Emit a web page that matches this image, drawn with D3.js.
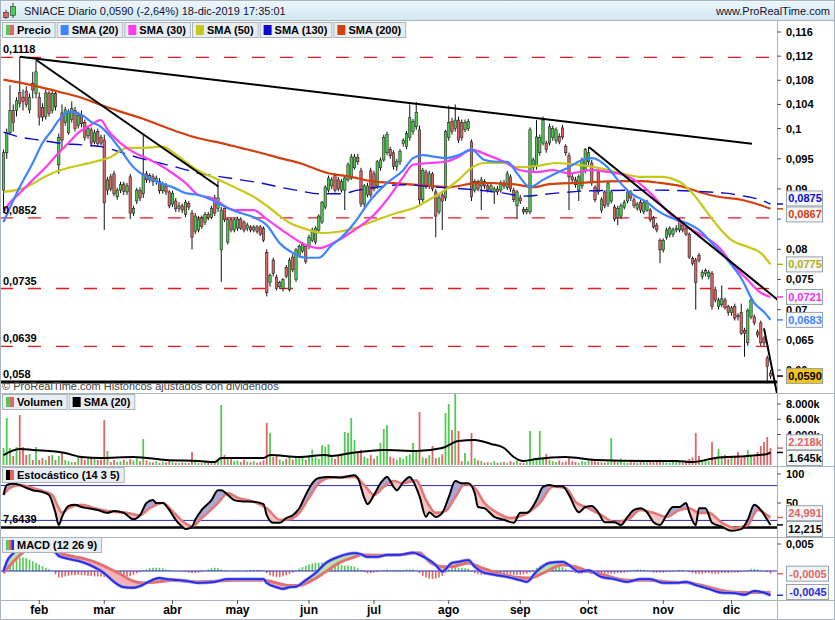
<!DOCTYPE html>
<html>
<head>
<meta charset="utf-8">
<script src="https://cdn.jsdelivr.net/npm/d3@7"></script>
<style>
  body { margin: 0; background: #fff; }
  svg text { font-family: "Liberation Sans", Arial, sans-serif; }
</style>
</head>
<body>
<div id="chart"></div>
<script>
// SNIACE daily, 17-ene-2019 .. 18-dic-2019. prices in units of 0.0001
const candles = [
  [898,965,860,960],[960,1000,950,993],[993,1072,990,1030],[1030,1040,995,1010],[1030,1052,1020,1046],
  [1060,1118,1035,1042],[1052,1065,1030,1045],[1062,1070,1035,1040],[1031,1058,1025,1052],[1075,1094,1050,1064],
  [1058,1112,1050,1094],[1052,1060,1005,1019],[1035,1042,1012,1019],[1020,1065,1015,1059],[1059,1062,1020,1025],
  [1030,1062,1025,1058],[1058,1062,1030,1036],[940,992,925,985],[1026,1040,965,981],[1010,1036,1005,1031],
  [993,1032,990,1028],[1015,1045,1010,1033],[1030,1036,995,1000],[1005,1028,1000,1022],[1022,1030,1002,1008],
  [1010,1015,980,985],[988,1005,983,1000],[998,1002,970,976],[978,998,974,993],[995,1000,970,975],
  [985,990,972,976],[981,990,832,877],[898,920,890,915],[920,925,896,900],[925,930,888,892],
  [887,902,882,898],[898,912,893,907],[908,912,890,896],[895,910,890,905],[920,925,850,860],
  [860,872,855,868],[880,902,875,898],[898,903,880,885],[892,990,885,925],[925,930,910,915],
  [915,926,910,922],[920,925,905,912],[912,922,907,918],[912,918,892,897],[897,912,892,908],
  [905,910,890,895],[895,898,868,872],[875,897,870,893],[880,885,862,867],[868,878,862,872],
  [872,876,860,865],[858,882,853,878],[876,880,865,870],[860,865,800,820],[830,860,825,855],
  [832,855,828,850],[852,856,834,838],[845,862,840,858],[858,862,848,852],[853,872,850,868],
  [885,890,855,860],[868,915,862,885],[799,870,746,865],[868,872,845,849],[812,852,808,849],
  [849,852,828,832],[832,852,828,849],[835,854,830,850],[850,853,832,835],[845,848,828,832],
  [835,844,830,840],[837,840,828,832],[832,840,828,837],[837,840,826,830],[837,840,822,825],
  [835,838,812,815],[795,800,722,728],[745,760,738,757],[782,786,755,760],[754,758,732,735],
  [738,748,734,745],[735,752,730,750],[770,774,752,755],[733,786,730,782],[787,792,762,766],
  [750,802,746,799],[790,808,786,805],[797,812,794,808],[805,808,776,780],[805,824,800,820],
  [815,836,812,832],[812,838,808,835],[832,858,828,855],[845,880,842,878],[870,906,866,903],
  [898,922,894,918],[905,920,900,915],[922,926,894,898],[915,920,896,900],[898,916,894,912],
  [898,922,865,918],[915,944,912,940],[918,958,915,953],[935,958,932,953],[952,958,940,945],
  [930,935,870,875],[875,908,870,905],[890,910,886,905],[930,935,886,890],[925,930,896,900],
  [905,948,900,945],[935,952,930,948],[948,990,945,985],[960,995,956,990],[965,970,950,955],
  [960,964,932,937],[937,950,930,945],[945,966,940,962],[975,984,970,980],[970,996,966,992],
  [985,1040,980,1018],[995,1016,990,1012],[1003,1044,998,1027],[998,1005,875,882],[882,935,878,931],
  [928,932,900,905],[905,930,900,925],[925,928,896,900],[895,900,820,855],[862,890,858,885],
  [890,895,832,880],[885,998,880,995],[985,1038,980,1010],[1012,1018,990,995],[1000,1040,995,1014],
  [1014,1020,976,981],[1010,1015,980,985],[998,1015,994,1010],[1000,1016,996,1012],[978,982,880,887],
  [898,916,894,912],[912,915,896,900],[905,920,865,915],[912,916,900,905],[905,910,894,898],
  [898,910,894,905],[895,904,875,900],[900,905,890,895],[898,914,894,910],[910,915,900,905],
  [902,930,898,925],[920,924,895,900],[898,902,878,882],[872,898,850,895],[885,890,875,880],
  [866,870,858,862],[862,870,858,866],[862,1002,858,998],[936,952,930,948],[937,1014,932,986],
  [960,990,955,985],[976,1020,972,1014],[976,980,960,965],[976,1008,972,1003],[985,1005,980,1000],
  [980,1002,975,998],[987,992,974,978],[1001,1006,982,986],[970,974,955,960],[955,960,865,920],
  [920,926,910,915],[915,920,902,907],[898,924,880,920],[905,952,900,948],[930,968,926,965],
  [945,970,940,960],[943,948,905,910],[903,906,878,882],[928,932,890,895],[865,886,860,882],
  [895,898,868,872],[875,914,870,910],[880,898,876,895],[870,874,846,850],[852,872,840,868],
  [855,876,850,872],[870,882,866,878],[880,900,876,895],[895,898,880,885],[882,886,868,872],
  [868,878,864,875],[878,882,860,865],[862,880,858,877],[865,882,862,878],[865,868,845,849],
  [852,855,834,837],[840,844,828,832],[815,818,777,799],[799,818,795,815],[820,836,816,832],
  [825,838,820,835],[825,836,820,832],[832,840,828,835],[832,852,828,849],[840,844,828,832],
  [835,838,822,825],[825,828,784,787],[785,788,773,777],[782,786,700,745],[790,794,778,782],
  [755,766,750,762],[760,768,755,765],[755,766,750,762],[760,764,700,705],[733,738,712,716],
  [705,720,700,716],[708,740,704,718],[716,720,700,703],[705,708,690,695],[695,706,690,703],
  [705,710,682,686],[690,694,682,688],[695,710,658,661],[666,670,622,661],[645,702,640,699],
  [688,722,684,716],[688,692,674,678],[663,667,654,658],[678,682,640,645],[653,656,640,645],
  [620,624,578,606],[595,600,585,590],
];

// volume, thousands of shares
const volume = [
  2230,6170,2230,1180,2360,6560,2360,1310,1440,660,2360,660,900,660,1180,1310,660,1180,1570,660,
  500,390,390,1050,1050,660,920,1050,920,660,700,5900,1840,390,660,390,500,700,450,800,
  600,900,500,3410,600,400,350,500,300,450,350,600,400,300,250,350,300,250,1700,500,
  300,250,400,300,350,450,600,7870,1310,1050,920,500,600,400,700,450,350,500,300,400,
  600,5510,4200,1050,1300,700,500,800,1100,700,1000,900,1200,700,1300,2000,1000,800,2600,2400,
  2700,1000,800,1300,1500,4330,4200,6170,3280,1700,2000,1100,900,1300,800,1200,2900,4720,5250,1100,
  900,700,1000,800,1200,1400,2890,1800,6960,1000,900,1300,2490,900,1000,1400,6820,8000,4590,9450,
  4460,500,1570,500,4200,900,600,500,300,350,300,500,300,350,400,300,500,350,600,300,
  250,400,4460,600,700,4460,900,1440,700,500,400,600,350,450,900,500,400,300,500,400,
  600,800,500,400,350,300,400,3540,600,400,800,350,300,400,350,300,500,400,350,450,
  600,500,700,400,350,300,450,400,500,300,400,800,1000,4200,1200,600,700,500,3020,1000,
  2100,1200,1310,800,1000,1100,1700,900,1200,1970,1300,1100,1700,2490,3020,3670,2218,
];

// moving averages: [day, value]
const sma20 = [[0,845],[5,903],[9,943],[12,976],[15,998],[17,1014],[20,1028],[24,1023],[27,1011],[30,1003],
  [33,986],[36,965],[40,936],[44,920],[48,910],[52,903],[56,893],[60,890],[64,882],[69,868],[73,860],[77,853],
  [81,840],[85,810],[89,794],[93,786],[97,786],[101,807],[104,820],[108,844],[113,882],[118,910],[123,931],
  [126,951],[129,956],[133,953],[136,951],[140,956],[144,965],[148,948],[152,945],[155,945],[158,926],[162,903],
  [166,915],[170,926],[174,936],[178,948],[181,951],[186,935],[189,915],[193,893],[198,878],[201,865],[205,853],
  [210,844],[214,832],[218,810],[222,787],[227,752],[231,711],[234,696],[236,683]];
const sma30 = [[0,862],[2,877],[5,893],[9,915],[13,936],[17,960],[20,976],[23,993],[26,1003],[30,1014],
  [32,998],[36,976],[40,961],[44,951],[48,940],[52,926],[56,910],[60,890],[64,885],[71,865],[77,865],[81,850],
  [87,827],[93,807],[97,802],[103,815],[108,832],[113,852],[118,882],[123,920],[126,940],[131,943],[136,945],
  [140,953],[144,965],[149,956],[154,945],[159,931],[164,928],[169,931],[174,926],[181,931],[186,928],[191,923],
  [195,912],[199,893],[203,870],[207,849],[212,832],[216,820],[220,804],[224,777],[229,749],[233,728],[236,721]];
const sma50 = [[0,895],[7,903],[11,915],[15,926],[20,935],[24,940],[28,945],[33,953],[38,968],[42,968],
  [49,970],[52,961],[56,945],[60,930],[65,918],[71,903],[77,887],[82,868],[88,844],[94,832],[98,827],[103,829],
  [109,837],[115,849],[121,860],[127,870],[131,882],[135,895],[140,915],[144,935],[148,943],[154,943],[158,936],
  [164,938],[170,943],[177,940],[183,935],[190,926],[196,920],[202,920],[208,912],[212,893],[216,865],[220,837],
  [224,815],[229,804],[233,794],[236,775]];
const sma130 = [[0,994],[5,986],[11,981],[17,976],[24,973],[30,970],[36,961],[42,951],[48,943],[54,935],
  [60,926],[67,920],[73,915],[79,910],[85,903],[91,897],[97,892],[104,892],[109,898],[115,903],[123,907],
  [133,903],[146,898],[154,893],[160,888],[170,893],[181,897],[201,898],[217,895],[222,893],[229,887],
  [233,882],[236,875]];
const sma200 = [[0,1081],[5,1076],[11,1069],[17,1061],[24,1051],[30,1039],[36,1028],[42,1018],[48,1006],
  [54,994],[60,984],[67,976],[73,968],[79,960],[85,951],[91,943],[100,926],[107,920],[113,913],[119,910],
  [131,905],[137,903],[146,910],[158,907],[163,903],[168,908],[177,910],[190,913],[196,913],[202,910],
  [208,905],[214,895],[220,887],[227,882],[233,873],[236,867]];
const volSma20 = [[0,1310],[5,2100],[9,1970],[19,1570],[24,1050],[30,920],[40,1050],[50,660],[60,525],
  [65,390],[67,920],[80,920],[82,1310],[91,1050],[99,1310],[101,1180],[107,1570],[117,1970],[127,1840],
  [135,2230],[140,3150],[145,3280],[150,2760],[154,2230],[157,1050],[160,525],[164,790],[173,1050],
  [182,660],[198,525],[207,525],[212,390],[219,920],[229,1180],[235,1440],[236,1645]];

// stochastic (14 3 5): %K and %D, [day, value]
const stochK = [[0,64],[1,81],[3,83],[5,81],[7,76],[9,72],[12,69],[14,64],[16,33],[17,12],[18,26],[19,38],
  [20,45],[22,47],[24,43],[26,41],[29,38],[32,33],[34,36],[37,33],[40,22],[42,29],[44,50],[46,55],[47,50],
  [49,50],[51,38],[53,21],[55,9],[56,5],[58,9],[59,21],[61,38],[64,55],[66,72],[67,72],[69,64],[71,55],
  [73,53],[77,52],[80,48],[81,29],[83,16],[85,16],[87,24],[89,29],[91,41],[93,64],[95,84],[97,93],[100,95],
  [104,94],[108,98],[109,93],[111,59],[112,48],[114,64],[116,84],[118,95],[120,78],[121,72],[123,86],
  [125,95],[126,88],[128,62],[130,26],[131,34],[133,26],[135,33],[137,60],[139,88],[141,84],[143,84],
  [145,67],[146,43],[148,41],[151,26],[154,21],[157,16],[159,33],[161,33],[164,55],[166,78],[168,81],
  [170,79],[172,79],[174,64],[177,34],[179,43],[181,45],[183,34],[185,17],[188,17],[190,12],[192,26],
  [194,38],[196,41],[198,34],[200,17],[202,12],[204,29],[206,43],[208,43],[210,50],[211,34],[213,12],
  [214,41],[216,41],[218,16],[221,9],[224,2],[227,5],[229,21],[231,47],[233,38],[235,21],[236,12.2]];
const stochD = [[0,64],[2,76],[5,81],[9,76],[13,69],[15,64],[17,41],[18,33],[20,41],[24,47],[28,41],
  [32,36],[38,33],[42,29],[45,41],[49,50],[52,36],[55,19],[58,10],[61,24],[66,50],[69,67],[72,59],[77,52],
  [81,41],[85,21],[88,22],[91,33],[94,59],[97,84],[101,94],[108,95],[111,81],[114,64],[117,78],[120,88],
  [123,84],[126,88],[127,89],[130,55],[133,33],[136,36],[139,60],[142,83],[145,76],[148,50],[152,33],
  [156,24],[160,29],[165,50],[169,78],[173,76],[176,52],[180,41],[184,29],[188,17],[192,21],[196,38],
  [200,33],[204,26],[208,38],[211,41],[214,33],[217,33],[221,16],[225,7],[229,12],[232,38],[235,29],[236,25]];

// MACD (12 26 9) in units of 0.0001: [day, value]
const macdLine = [[0,-1],[1,17],[3,33],[5,48],[8,58],[11,62],[14,52],[17,28],[19,24],[24,17],[28,7],[31,-4],
  [34,-20],[37,-30],[40,-31],[42,-28],[44,-22],[48,-13],[50,-15],[54,-17],[58,-20],[60,-22],[65,-20],
  [69,-15],[73,-15],[80,-15],[81,-22],[84,-30],[86,-33],[88,-30],[90,-29],[93,-17],[96,-4],[99,14],
  [103,26],[108,33],[110,31],[112,26],[115,26],[118,30],[122,30],[126,34],[128,30],[130,24],[133,11],
  [135,-1],[138,15],[140,17],[143,20],[145,8],[147,-1],[151,-7],[155,-11],[159,-17],[161,-20],[164,-1],
  [168,15],[172,17],[174,11],[177,-1],[180,1],[184,-11],[188,-15],[192,-20],[196,-15],[199,-15],[203,-22],
  [207,-22],[210,-20],[213,-26],[217,-33],[221,-40],[225,-41],[228,-44],[231,-37],[234,-40],[236,-45]];
const macdSignal = [[0,-4],[3,17],[7,39],[11,48],[14,45],[16,35],[19,30],[24,24],[28,17],[32,6],[36,-6],
  [40,-19],[43,-22],[48,-20],[52,-17],[58,-20],[65,-19],[71,-17],[80,-17],[84,-22],[88,-27],[91,-27],
  [95,-17],[99,-2],[103,14],[108,26],[110,30],[114,29],[122,30],[126,33],[128,34],[131,17],[135,8],
  [138,8],[143,15],[147,6],[151,-2],[157,-11],[162,-13],[166,-4],[172,11],[176,8],[180,-1],[184,-6],
  [188,-13],[192,-17],[198,-17],[204,-20],[211,-22],[217,-30],[221,-36],[227,-40],[233,-40],[236,-40]];
const macdHist = [
  3,8,14,18,22,24,25,24,21,18,15,12,9,6,3,0,-6,-12,-12,-10,
  -9,-8,-8,-7,-8,-8,-9,-9,-10,-10,-10,-11,-13,-14,-14,-13,-12,-11,-10,-9,
  -7,-4,-2,1,3,5,6,6,6,5,3,2,1,0,0,-1,-2,-3,-4,-4,
  -3,-2,1,3,5,6,5,3,1,1,0,0,1,0,0,1,2,2,2,2,
  1,-4,-8,-10,-11,-11,-10,-8,-6,-3,1,4,7,10,12,14,15,15,16,15,
  14,13,12,12,11,10,10,9,8,5,2,-2,-4,-4,-3,-2,1,2,3,2,
  2,2,2,2,3,3,3,1,-4,-9,-12,-14,-15,-14,-12,-9,-3,3,6,6,
  6,6,5,4,-1,-4,-6,-7,-7,-6,-6,-6,-6,-6,-6,-6,-7,-7,-7,-7,
  -6,-5,-3,2,6,10,13,14,15,14,12,10,7,4,1,-2,-4,-5,-5,-4,
  -4,-5,-6,-6,-6,-5,-5,-5,-5,-4,-4,-3,-2,1,2,3,3,2,1,-1,
  -3,-3,-3,-3,-2,-2,-1,0,2,2,0,-2,-4,-5,-5,-5,-4,-4,-5,-5,
  -5,-4,-4,-4,-3,-3,-3,-2,-1,2,4,4,3,1,-1,-2,-5,
];

// calendar: first trading day of each month (day index)
const monthLabels = ['feb', 'mar', 'abr', 'may', 'jun', 'jul', 'ago', 'sep', 'oct', 'nov', 'dic'];
const monthStart = [11, 31, 52, 72, 94, 114, 137, 159, 180, 203, 224];

const priceTicks = [0.116, 0.112, 0.108, 0.104, 0.1, 0.095, 0.09, 0.085, 0.08, 0.075, 0.07, 0.065, 0.06];
const supportLevels = [1118, 852, 735, 639];
const floorLevel = 580;
// trend lines drawn on the chart: [[day, price], [day, price]]
const trendLines = [
  [[5, 1119], [230.3, 975]],
  [[10, 1114], [66.1, 904]],
  [[180.2, 969], [239, 713]],
  [[234, 669], [238, 561]],
];
const volTicks = [8000, 6000, 4000];
const stochTicks = [100, 50];
const stochBands = [80, 20];
const stochMin = 7.6439;
const macdTicks = [0.005];

const W = 835;
const H = 620;
const axisX = 777;
const GRID = '#a9b4bd';
const GREEN = '#4fcb4f';
const RED = '#e06464';

const svg = d3.select('#chart').append('svg').attr('width', W).attr('height', H);
const defs = svg.append('defs');

const p = (v) => v / 10000;
const comma = (v) => String(v).replace('.', ',');

/**
 * Scales
 */
const x = d3.scaleLinear().domain([0, 236]).range([3.5, 770.5]);
const yPrice = d3.scaleLinear().domain([0.06, 0.116]).range([370, 32]);
const yVol = d3.scaleLinear().domain([0, 8000]).range([465, 404]);
const yStoch = d3.scaleLinear().domain([0, 100]).range([532, 474]);
const yMacd = d3.scaleLinear().domain([0, 0.005]).range([571, 544]);

const panels = {
  price: [20, 393],
  vol: [393, 466],
  stoch: [466, 537],
  macd: [537, 600],
};

Object.entries(panels).forEach(([name, [top, bottom]]) => {
  defs.append('clipPath').attr('id', `clip-${name}`)
    .append('rect').attr('x', 0).attr('y', top).attr('width', axisX).attr('height', bottom - top);
});

/**
 * Header
 */
const grad = defs.append('linearGradient').attr('id', 'hdr').attr('x1', 0).attr('x2', 0).attr('y1', 0).attr('y2', 1);
grad.append('stop').attr('offset', 0).attr('stop-color', '#eef7fb');
grad.append('stop').attr('offset', 1).attr('stop-color', '#d3e8f2');

svg.append('rect').attr('width', W).attr('height', 20).attr('fill', 'url(#hdr)');
svg.append('line').attr('x1', 0).attr('x2', W).attr('y1', 20.5).attr('y2', 20.5).attr('stroke', GRID);

// little candle icon
const icon = svg.append('g');
icon.append('line').attr('x1', 6).attr('x2', 6).attr('y1', 10).attr('y2', 19).attr('stroke', '#333');
icon.append('rect').attr('x', 3.5).attr('y', 12.5).attr('width', 5).attr('height', 5).attr('fill', RED).attr('stroke', '#333').attr('stroke-width', 0.6);
icon.append('line').attr('x1', 13).attr('x2', 13).attr('y1', 3).attr('y2', 18).attr('stroke', '#333');
icon.append('rect').attr('x', 10.5).attr('y', 6.5).attr('width', 5).attr('height', 9).attr('fill', GREEN).attr('stroke', '#333').attr('stroke-width', 0.6);

svg.append('text').attr('x', 24).attr('y', 15).style('font-size', '11px').attr('fill', '#111133')
  .text('SNIACE Diario 0,0590 (-2,64%) 18-dic-2019 17:35:01');
svg.append('text').attr('x', 830).attr('y', 15).attr('text-anchor', 'end').style('font-size', '11px').attr('fill', '#111133')
  .text('www.ProRealTime.com');

/**
 * Price panel
 */
const price = svg.append('g').attr('clip-path', 'url(#clip-price)');

supportLevels.forEach((lv) => {
  price.append('line')
    .attr('x1', 0).attr('x2', axisX)
    .attr('y1', yPrice(p(lv))).attr('y2', yPrice(p(lv)))
    .attr('stroke', '#e8191b').attr('stroke-width', 1.3)
    .style('stroke-dasharray', '13, 15');
});
price.append('line')
  .attr('x1', 0).attr('x2', axisX)
  .attr('y1', yPrice(p(floorLevel))).attr('y2', yPrice(p(floorLevel)))
  .attr('stroke', '#000').attr('stroke-width', 3);

// candles
const cndl = price.append('g').selectAll('g').data(candles).enter().append('g');
cndl.append('line')
  .attr('x1', (d, i) => x(i)).attr('x2', (d, i) => x(i))
  .attr('y1', (d) => yPrice(p(d[1]))).attr('y2', (d) => yPrice(p(d[2])))
  .attr('stroke', '#111').attr('stroke-width', 1);
cndl.append('rect')
  .attr('x', (d, i) => x(i) - 1.2)
  .attr('width', 2.4)
  .attr('y', (d) => yPrice(p(Math.max(d[0], d[3]))))
  .attr('height', (d) => Math.max(1, Math.abs(yPrice(p(d[0])) - yPrice(p(d[3])))))
  .attr('fill', (d) => (d[3] >= d[0] ? GREEN : RED))
  .attr('stroke', '#222').attr('stroke-width', 0.6);

// moving averages
const priceLine = d3.line().x((d) => x(d[0])).y((d) => yPrice(p(d[1]))).curve(d3.curveMonotoneX);
const smaDefs = [
  { data: sma200, color: '#d2400e', w: 2.2 },
  { data: sma130, color: '#0a0ad2', w: 1.4, dash: '14, 8' },
  { data: sma50, color: '#c8c81a', w: 2.2 },
  { data: sma30, color: '#ff3cf0', w: 2.2 },
  { data: sma20, color: '#3d84ff', w: 2.2 },
];
smaDefs.forEach((s) => {
  price.append('path').attr('d', priceLine(s.data))
    .attr('fill', 'none').attr('stroke', s.color).attr('stroke-width', s.w)
    .style('stroke-dasharray', s.dash || null);
});

// trend lines
trendLines.forEach((t) => {
  price.append('line')
    .attr('x1', x(t[0][0])).attr('y1', yPrice(p(t[0][1])))
    .attr('x2', x(t[1][0])).attr('y2', yPrice(p(t[1][1])))
    .attr('stroke', '#000').attr('stroke-width', 2);
});

// level labels
supportLevels.concat([floorLevel]).forEach((lv) => {
  svg.append('text').attr('x', 3).attr('y', yPrice(p(lv)) - 4)
    .style('font-size', '11px').style('font-weight', 'bold')
    .text(comma(p(lv)));
});

svg.append('text').attr('x', 2).attr('y', 390).style('font-size', '11px').attr('fill', '#444')
  .text('© ProRealTime.com  Históricos ajustados con dividendos');

/**
 * Legend boxes
 */
const legend = (x0, y0, label, swatch) => {
  const g = svg.append('g');
  const t = g.append('text').attr('x', x0 + 15).attr('y', y0 + 12)
    .style('font-size', '11px').style('font-weight', 'bold').text(label);
  const w = t.node().getComputedTextLength() + 19;
  g.insert('rect', 'text').attr('x', x0 + 0.5).attr('y', y0 + 0.5).attr('width', w).attr('height', 15)
    .attr('fill', '#e8eef2').attr('stroke', GRID);
  const sw = swatch.length;
  swatch.forEach((c, k) => {
    g.append('rect').attr('x', x0 + 4 + (k * 8) / sw).attr('y', y0 + 3).attr('width', 8 / sw).attr('height', 10).attr('fill', c);
  });
  return x0 + w + 2;
};

let lx = 2;
lx = legend(lx, 22, 'Precio', [GREEN, RED]);
lx = legend(lx, 22, 'SMA (20)', ['#3d84ff']);
lx = legend(lx, 22, 'SMA (30)', ['#ff3cf0']);
lx = legend(lx, 22, 'SMA (50)', ['#c8c81a']);
lx = legend(lx, 22, 'SMA (130)', ['#0a0ad2']);
legend(lx, 22, 'SMA (200)', ['#d2400e']);

/**
 * Volume panel
 */
const vol = svg.append('g').attr('clip-path', 'url(#clip-vol)');
vol.selectAll('rect').data(volume).enter().append('rect')
  .attr('x', (d, i) => x(i) - 0.9)
  .attr('width', 1.8)
  .attr('y', (d) => yVol(d))
  .attr('height', (d) => yVol(0) - yVol(d))
  .attr('fill', (d, i) => (candles[i][3] >= candles[i][0] ? GREEN : RED));
vol.append('path')
  .attr('d', d3.line().x((d) => x(d[0])).y((d) => yVol(d[1])).curve(d3.curveMonotoneX)(volSma20))
  .attr('fill', 'none').attr('stroke', '#000').attr('stroke-width', 2);

const vx = legend(2, 394, 'Volumen', [GREEN, RED]);
legend(vx, 394, 'SMA (20)', ['#000']);

/**
 * Band fill helper: colours the gap between two lines by which one is on top
 */
const fillBetween = (g, id, lineA, lineB, scaleY, top, bottom, upColor, downColor, conv) => {
  const ax = (d) => x(d[0]);
  const ay = (d) => scaleY(conv(d[1]));
  const above = d3.area().x(ax).y0(top).y1(ay).curve(d3.curveMonotoneX);
  const below = d3.area().x(ax).y0(bottom).y1(ay).curve(d3.curveMonotoneX);
  defs.append('clipPath').attr('id', `${id}-belowA`).append('path').attr('d', below(lineA));
  defs.append('clipPath').attr('id', `${id}-belowB`).append('path').attr('d', below(lineB));
  g.append('path').attr('d', above(lineB)).attr('fill', upColor).attr('clip-path', `url(#${id}-belowA)`);
  g.append('path').attr('d', above(lineA)).attr('fill', downColor).attr('clip-path', `url(#${id}-belowB)`);
};

/**
 * Stochastic panel
 */
const sto = svg.append('g').attr('clip-path', 'url(#clip-stoch)');
stochBands.forEach((b) => {
  sto.append('line').attr('x1', 0).attr('x2', axisX).attr('y1', yStoch(b)).attr('y2', yStoch(b))
    .attr('stroke', '#2626b8').attr('stroke-width', 1);
});
sto.append('line').attr('x1', 0).attr('x2', axisX).attr('y1', yStoch(stochMin)).attr('y2', yStoch(stochMin))
  .attr('stroke', '#000').attr('stroke-width', 2.5);
fillBetween(sto, 'st', stochK, stochD, yStoch, 466, 537, '#a9a9d8', '#f5c4c4', (v) => v);
const stLine = d3.line().x((d) => x(d[0])).y((d) => yStoch(d[1])).curve(d3.curveMonotoneX);
sto.append('path').attr('d', stLine(stochD)).attr('fill', 'none').attr('stroke', '#e57878').attr('stroke-width', 2.6);
sto.append('path').attr('d', stLine(stochK)).attr('fill', 'none').attr('stroke', '#000').attr('stroke-width', 2);

svg.append('text').attr('x', 3).attr('y', yStoch(stochMin) - 5)
  .style('font-size', '11px').style('font-weight', 'bold').text(comma(stochMin));
legend(2, 467, 'Estocástico (14 3 5)', ['#000', RED]);

/**
 * MACD panel
 */
const mac = svg.append('g').attr('clip-path', 'url(#clip-macd)');
mac.selectAll('rect').data(macdHist).enter().append('rect')
  .attr('x', (d, i) => x(i) - 0.8)
  .attr('width', 1.6)
  .attr('y', (d) => Math.min(yMacd(0), yMacd(p(d))))
  .attr('height', (d) => Math.abs(yMacd(p(d)) - yMacd(0)))
  .attr('fill', (d) => (d >= 0 ? GREEN : RED));
mac.append('line').attr('x1', 0).attr('x2', axisX).attr('y1', yMacd(0)).attr('y2', yMacd(0))
  .attr('stroke', '#2626b8').attr('stroke-width', 1);
fillBetween(mac, 'mc', macdLine, macdSignal, yMacd, 537, 600, '#b4e4a6', '#f2b4b4', p);
const mLine = d3.line().x((d) => x(d[0])).y((d) => yMacd(p(d[1]))).curve(d3.curveMonotoneX);
mac.append('path').attr('d', mLine(macdSignal)).attr('fill', 'none').attr('stroke', '#e57070').attr('stroke-width', 3);
mac.append('path').attr('d', mLine(macdLine)).attr('fill', 'none').attr('stroke', '#8c8cf0').attr('stroke-width', 3.2);
mac.append('path').attr('d', mLine(macdLine)).attr('fill', 'none').attr('stroke', '#2a2ae0').attr('stroke-width', 1.8);

legend(2, 537, 'MACD (12 26 9)', [GREEN, RED, '#2a2ae0']);

/**
 * Frames and separators
 */
[393, 466, 537, 600].forEach((yy) => {
  svg.append('line').attr('x1', 0).attr('x2', W).attr('y1', yy + 0.5).attr('y2', yy + 0.5).attr('stroke', GRID);
});
svg.append('line').attr('x1', axisX + 0.5).attr('x2', axisX + 0.5).attr('y1', 20).attr('y2', H).attr('stroke', GRID);
svg.append('rect').attr('x', 0.5).attr('y', 0.5).attr('width', W - 1).attr('height', H - 1)
  .attr('fill', 'none').attr('stroke', GRID);

/**
 * Right axes, then the value boxes on top of them
 */
const boxSpans = [];

const valueBoxes = (items, minY, maxY) => {
  const sorted = items.map((d) => ({ ...d, c: d.y })).sort((a, b) => a.y - b.y);
  for (let k = 1; k < sorted.length; k += 1) {
    const gap = sorted[k].c - sorted[k - 1].c;
    if (gap < 16) {
      const mid = (sorted[k].c + sorted[k - 1].c) / 2;
      sorted[k - 1].c = mid - 8;
      sorted[k].c = mid + 8;
    }
  }
  return sorted.map((d) => ({ ...d, c: Math.max(minY, Math.min(maxY, d.c)) }));
};

const drawBoxes = (boxes) => {
  boxes.forEach((d) => {
    const w = d.w || 36;
    svg.append('line').attr('x1', axisX).attr('x2', axisX + 6).attr('y1', d.y).attr('y2', d.y)
      .attr('stroke', d.color).attr('stroke-width', 1.5);
    svg.append('rect').attr('x', axisX + 9.5).attr('y', d.c - 7.5).attr('width', w).attr('height', 15)
      .attr('fill', d.bg || '#f4f6f8').attr('stroke', '#98a2ab');
    svg.append('text').attr('x', axisX + 10 + w / 2).attr('y', d.c + 4).attr('text-anchor', 'middle')
      .style('font-size', '11px').style('font-weight', 'bold').attr('fill', d.text || d.color).text(d.label);
  });
};

const last = (arr) => arr[arr.length - 1][1];
const lastClose = candles[candles.length - 1][3];
const kfmt = (v) => `${d3.format(',')(v).replace(',', '.')}k`;

const priceBoxes = valueBoxes([
  { y: yPrice(p(last(sma130))), color: '#0a0ad2', label: comma(p(last(sma130))) },
  { y: yPrice(p(last(sma200))), color: '#d2400e', label: comma(p(last(sma200))) },
  { y: yPrice(p(last(sma50))), color: '#b0b010', label: comma(p(last(sma50))) },
  { y: yPrice(p(last(sma30))), color: '#f030f0', label: comma(p(last(sma30))) },
  { y: yPrice(p(last(sma20))), color: '#3d84ff', label: comma(p(last(sma20))) },
  { y: yPrice(p(lastClose)), color: '#000', bg: '#f5c518', text: '#000', label: comma(p(lastClose)).padEnd(6, '0') },
], 30, 385);
const volBoxes = valueBoxes([
  { y: yVol(volume[volume.length - 1]), color: RED, label: kfmt(volume[volume.length - 1]) },
  { y: yVol(last(volSma20)), color: '#000', label: kfmt(last(volSma20)) },
], 400, 458);
const stochBoxes = valueBoxes([
  { y: yStoch(last(stochD)), color: RED, label: '24,991' },
  { y: yStoch(last(stochK)), color: '#000', label: '12,215' },
], 470, 529);
const macdBoxes = valueBoxes([
  { y: yMacd(p(macdHist[macdHist.length - 1])), color: RED, label: comma(p(macdHist[macdHist.length - 1])), w: 42 },
  { y: yMacd(p(last(macdLine))), color: '#2a2ae0', label: comma(p(last(macdLine))), w: 42 },
], 545, 592);
[priceBoxes, volBoxes, stochBoxes, macdBoxes].forEach((b) => b.forEach((d) => boxSpans.push([d.c - 7.5, d.c + 7.5])));

// a tick label whose centre sits under a value box is hidden by it
const axisLabel = (yy, txt) => {
  svg.append('line').attr('x1', axisX).attr('x2', axisX + 4).attr('y1', yy).attr('y2', yy).attr('stroke', '#555');
  if (boxSpans.some(([a, b]) => yy > a + 2 && yy < b - 2)) return;
  svg.append('text').attr('x', axisX + 9).attr('y', yy + 4)
    .style('font-size', '11px').style('font-weight', 'bold').attr('fill', '#000').text(txt);
};
priceTicks.forEach((t) => axisLabel(yPrice(t), comma(t)));
volTicks.forEach((t) => axisLabel(yVol(t), kfmt(t)));
stochTicks.forEach((t) => axisLabel(yStoch(t), String(t)));
macdTicks.forEach((t) => axisLabel(yMacd(t), comma(t)));

[priceBoxes, volBoxes, stochBoxes, macdBoxes].forEach(drawBoxes);

/**
 * Time axis
 */
monthStart.forEach((d, k) => {
  svg.append('line').attr('x1', x(d)).attr('x2', x(d)).attr('y1', 600).attr('y2', 604).attr('stroke', '#555');
  svg.append('text').attr('x', x(d)).attr('y', 614).attr('text-anchor', 'middle')
    .style('font-size', '12px').style('font-weight', 'bold').text(monthLabels[k]);
});
</script>
</body>
</html>
